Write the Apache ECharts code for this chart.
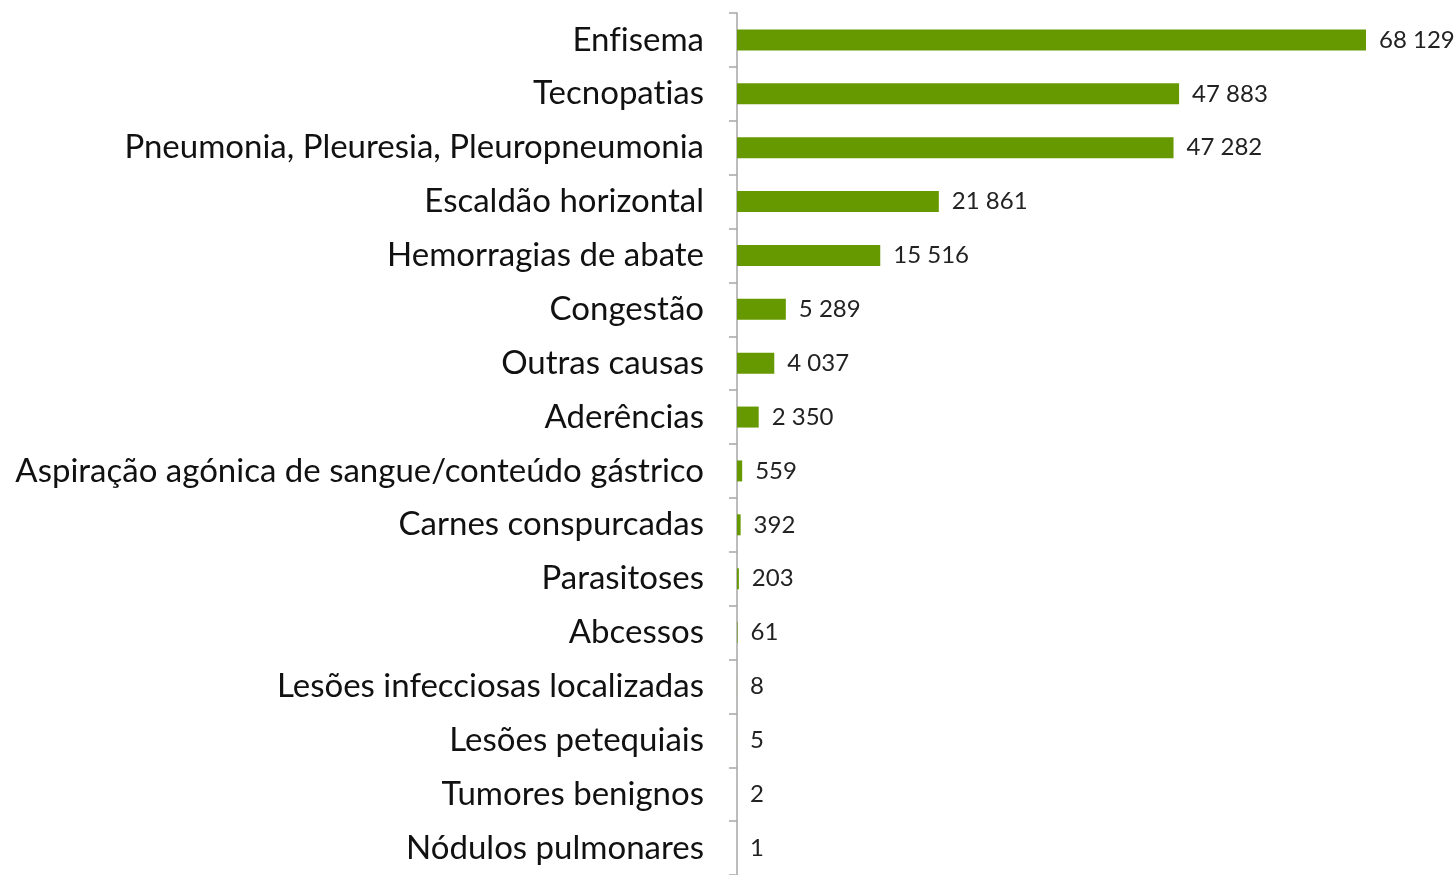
<!DOCTYPE html>
<html lang="pt">
  <head>
    <meta charset="UTF-8" />
    <title>Causas de rejeição</title>
    <script src="https://cdn.jsdelivr.net/npm/echarts@6/dist/echarts.min.js"></script>
    <style>
      html, body { margin: 0; padding: 0; background: #fff; }
      #main { width: 1455px; height: 875px; }
    </style>
  </head>
  <body>
    <div id="main"></div>
    <script>
      // categorias de cima para baixo
      let causas = [
        "Enfisema",
        "Tecnopatias",
        "Pneumonia, Pleuresia, Pleuropneumonia",
        "Escaldão horizontal",
        "Hemorragias de abate",
        "Congestão",
        "Outras causas",
        "Aderências",
        "Aspiração agónica de sangue/conteúdo gástrico",
        "Carnes conspurcadas",
        "Parasitoses",
        "Abcessos",
        "Lesões infecciosas localizadas",
        "Lesões petequiais",
        "Tumores benignos",
        "Nódulos pulmonares"
      ];
      let valores = [68129, 47883, 47282, 21861, 15516, 5289, 4037, 2350, 559, 392, 203, 61, 8, 5, 2, 1];

      function fmt(v) {
        return String(v).replace(/\B(?=(\d{3})+(?!\d))/g, " ");
      }

      // sem ligaduras (fi, ti) como no original
      var _fillText = CanvasRenderingContext2D.prototype.fillText;
      CanvasRenderingContext2D.prototype.fillText = function () {
        this.textRendering = "optimizeSpeed";
        return _fillText.apply(this, arguments);
      };

      var myChart = echarts.init(document.getElementById("main"));
      var option = {
        animation: false,
        textStyle: { fontFamily: "Lato" },
        grid: { left: 737, top: 13, width: 629, height: 867 },
        xAxis: {
          type: "value",
          min: 0,
          max: 68129,
          show: false
        },
        yAxis: {
          type: "category",
          inverse: true,
          data: causas,
          axisLine: { lineStyle: { color: "#a6a6a6", width: 1.5 } },
          axisTick: { show: true, length: 8, lineStyle: { color: "#a6a6a6", width: 1.5 } },
          axisLabel: { fontSize: 33, color: "#111", margin: 33, padding: [2, 0, 0, 0] }
        },
        series: [
          {
            type: "bar",
            data: valores,
            barWidth: 21,
            itemStyle: { color: "#669900" },
            label: {
              show: true,
              position: "right",
              distance: 13,
              fontSize: 24,
              color: "#222",
              padding: [2, 0, 0, 0],
              formatter: (p) => fmt(p.value)
            }
          }
        ]
      };
      myChart.setOption(option);
    </script>
  </body>
</html>
